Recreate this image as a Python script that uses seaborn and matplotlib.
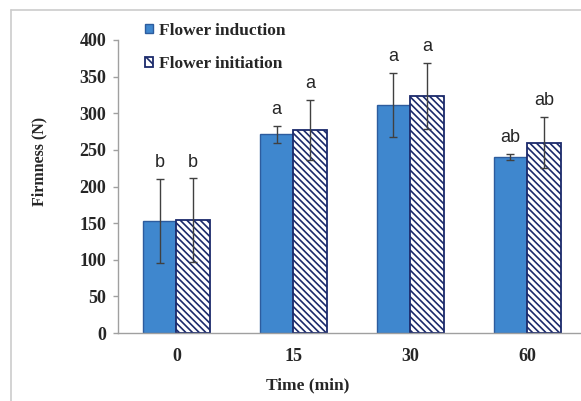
import matplotlib
matplotlib.use("Agg")
import matplotlib.pyplot as plt
import seaborn as sns
import pandas as pd
from matplotlib.patches import Rectangle
from matplotlib.lines import Line2D

times = ["0", "15", "30", "60"]
series = ["Flower induction", "Flower initiation"]
induction = [153, 271, 311, 240]
induction_err = [57, 12, 44, 4]
initiation = [154, 277, 324, 260]
initiation_err = [57, 41, 45, 35]
induction_letters = ["b", "a", "a", "ab"]
initiation_letters = ["b", "a", "a", "ab"]
yticks = [0, 50, 100, 150, 200, 250, 300, 350, 400]

sns.set_style("white")
plt.rcParams["font.family"] = ["Liberation Serif", "DejaVu Serif"]
plt.rcParams["hatch.linewidth"] = 1.2
plt.rcParams["hatch.color"] = "#1B2A6B"

df = pd.DataFrame({
    "Time": times * 2,
    "Series": [series[0]] * 4 + [series[1]] * 4,
    "Firmness": induction + initiation,
})

fig = plt.figure(figsize=(5.81, 4.01), dpi=100)
ax = fig.add_axes([118 / 581, 68 / 401, 467.6 / 581, 293 / 401])

blue = "#3F87CE"
navy = "#1B2A6B"
sns.barplot(data=df, x="Time", y="Firmness", hue="Series", order=times,
            hue_order=series, palette=[blue, "white"], width=0.575,
            saturation=1, errorbar=None, ax=ax, legend=False)

cont_ind, cont_ini = ax.containers[0], ax.containers[1]
for p in cont_ind:
    p.set_facecolor(blue)
    p.set_edgecolor("#2D5C9E")
    p.set_linewidth(1.0)
for p in cont_ini:
    p.set_facecolor("white")
    p.set_edgecolor(navy)
    p.set_hatch("\\\\\\\\\\")
    p.set_linewidth(1.3)

for cont, vals, errs, letters in [(cont_ind, induction, induction_err, induction_letters),
                                  (cont_ini, initiation, initiation_err, initiation_letters)]:
    xs = [p.get_x() + p.get_width() / 2 for p in cont]
    ax.errorbar(xs, vals, yerr=errs, fmt="none", ecolor="#404040",
                elinewidth=1.0, capsize=2.9, capthick=1.0, zorder=5)
    for x, v, e, t in zip(xs, vals, errs, letters):
        ax.annotate(t, (x, v + e), xytext=(0, 8.5), textcoords="offset points",
                    ha="center", va="baseline", fontsize=13,
                    family=["Liberation Sans", "DejaVu Sans"])

ax.set_ylim(0, 400)
ax.set_xlim(-0.5, 3.5)
ax.set_yticks(yticks)
ax.set_yticklabels([str(v) for v in yticks], fontsize=13, fontweight="bold")
ax.set_xticks(range(len(times)))
ax.set_xticklabels(times, fontsize=13, fontweight="bold")
ax.set_xticks([-0.5, 0.5, 1.5, 2.5, 3.5], minor=True)
ax.tick_params(axis="x", which="major", length=0, pad=11)
ax.tick_params(axis="x", which="minor", length=3.6, width=1, color="#A0A0A0", direction="out")
ax.tick_params(axis="y", which="major", length=3.6, width=1, color="#A0A0A0", direction="out", pad=5, left=True)

for s in ["top", "right"]:
    ax.spines[s].set_visible(False)
for s in ["left", "bottom"]:
    ax.spines[s].set_color("#A0A0A0")
    ax.spines[s].set_linewidth(1.0)

ax.set_xlabel("Time (min)", fontsize=12.5, fontweight="bold")
ax.set_ylabel("Firmness (N)", fontsize=11.5, fontweight="bold")
ax.xaxis.set_label_coords(0.406, -0.152)
ax.yaxis.set_label_coords(-0.150, 0.587)

h1 = Rectangle((0, 0), 1, 1, facecolor=blue, edgecolor="#2D5C9E", linewidth=1.0)
h2 = Rectangle((0, 0), 1, 1, facecolor="white", edgecolor=navy, hatch="\\\\\\", linewidth=1.3)
fig.legend([h1, h2], series, loc="upper left", bbox_to_anchor=(136 / 581, 1 - 14 / 401),
           frameon=False, borderpad=0, handlelength=0.5, handleheight=0.5,
           handletextpad=0.3, labelspacing=1.0,
           prop={"family": "Liberation Serif", "weight": "bold", "size": 12.5})

fig.add_artist(Line2D([11 / 581, 11 / 581], [-0.05, 1 - 10 / 401], transform=fig.transFigure,
                      color="#CCCCCC", linewidth=1.2))
fig.add_artist(Line2D([11 / 581, 1.05], [1 - 10 / 401, 1 - 10 / 401], transform=fig.transFigure,
                      color="#CCCCCC", linewidth=1.2))

fig.savefig("out.png", dpi=100)
